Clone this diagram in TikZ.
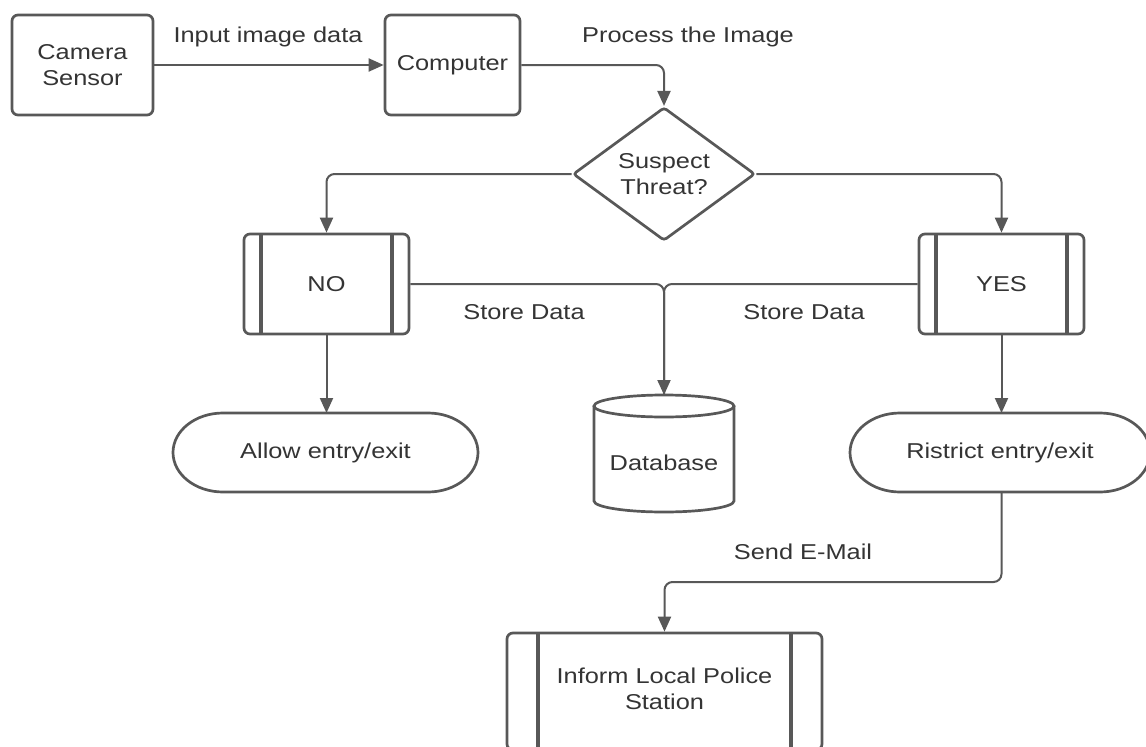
\documentclass[tikz,border=0pt]{standalone}
\usepackage{fontspec}
\setmainfont{Liberation Sans}[FakeStretch=1.18]
\usetikzlibrary{shapes.geometric,arrows.meta,calc}
\definecolor{edge}{RGB}{88,88,88}
\definecolor{ink}{RGB}{52,52,52}
\begin{document}
\begin{tikzpicture}[
  x=1pt, y=1pt,
  every node/.style={font=\fontsize{21.5}{26.5}\selectfont, text=ink, inner sep=0pt},
  boxline/.style={draw=edge, line width=2.7pt},
  plainbox/.style={boxline, rounded corners=6pt, fill=white, align=center},
  procbox/.style={boxline, rounded corners=6pt, fill=white, align=center,
    path picture={
      \draw[edge, line width=3.2pt]
        ([xshift=#1]path picture bounding box.north west) -- ([xshift=#1]path picture bounding box.south west)
        ([xshift=-#1]path picture bounding box.north east) -- ([xshift=-#1]path picture bounding box.south east);
    }},
  decision/.style={boxline, diamond, rounded corners=3pt, fill=white, align=center},
  terminal/.style={outer sep=0pt},
  store/.style={outer sep=0pt},
  flow/.style={draw=edge, line width=2pt, rounded corners=8pt},
  arrow/.style={flow, -{Triangle[width=13pt,length=15pt]}},
  tag/.style={anchor=base}
]
% page area
\useasboundingbox[fill=white] (0,0) rectangle (1146,-747);

% boxes
\node[plainbox, minimum width=141pt, minimum height=100pt] (cam) at (82.5,-65) {Camera\\Sensor};
\node[plainbox, minimum width=135pt, minimum height=100pt] (comp) at (452.5,-65) {Computer};
\node[decision, minimum width=182pt, minimum height=116pt] (dia) at (664,-174) {Suspect\\Threat?};
\node[procbox=17pt, minimum width=165pt, minimum height=100pt] (no) at (326.5,-284) {NO};
\node[procbox=17pt, minimum width=165pt, minimum height=100pt] (yes) at (1001.5,-284) {YES};
\node[terminal, minimum width=305pt, minimum height=79pt] (allow) at (325.5,-452.5) {Allow entry/exit};
\node[terminal, minimum width=300pt, minimum height=79pt] (ris) at (1000,-452.5) {Ristrict entry/exit};
\node[store, minimum width=140pt, text height=75.5pt, text depth=41.5pt, anchor=base] (db) at (664,-470.5) {Database};
\node[procbox=31pt, minimum width=315pt, minimum height=117pt, text depth=5.3pt] (pol) at (664.5,-691.5) {Inform Local Police\\Station};

% terminal outlines with elliptic ends
\foreach \t in {allow,ris}{
  \draw[boxline] ($(\t.north west)+(50,0)$) -- ($(\t.north east)+(-50,0)$)
    arc[start angle=90, end angle=-90, x radius=50, y radius=39.5]
    -- ($(\t.south west)+(50,0)$)
    arc[start angle=270, end angle=90, x radius=50, y radius=39.5] -- cycle;
}

% database cylinder
\draw[boxline] ($(db.north)+(0,-11)$) ellipse[x radius=70, y radius=11];
\draw[boxline] ($(db.north west)+(0,-11)$) -- ($(db.south west)+(0,11)$)
  arc[start angle=180, end angle=360, x radius=70, y radius=11]
  -- ($(db.north east)+(0,-11)$);

% connectors
\draw[arrow] (cam.east) -- (comp.west);
\draw[arrow] (comp.east) -| (dia.north);
\draw[arrow] (dia.west) -| (no.north);
\draw[arrow] (dia.east) -| (yes.north);
\draw[arrow] (no.east) -| (db.north);
\draw[flow] (yes.west) -| (db.north);
\draw[arrow] (no.south) -- (no.south |- allow.north);
\draw[arrow] (yes.south) -- (yes.south |- ris.north);
\coordinate (mailbend) at (1001.5,-582);
\draw[arrow] (mailbend |- ris.south) -- (mailbend) -| (pol.north);

% connector labels
\node[tag] (lin) at (268,-42) {Input image data};
\node[tag] (lproc) at (688,-42) {Process the Image};
\node[tag] (lsa) at (524,-319) {Store Data};
\node[tag] (lsb) at (804,-319) {Store Data};
\node[tag] (lmail) at (803,-559) {Send E-Mail};
\end{tikzpicture}
\end{document}
